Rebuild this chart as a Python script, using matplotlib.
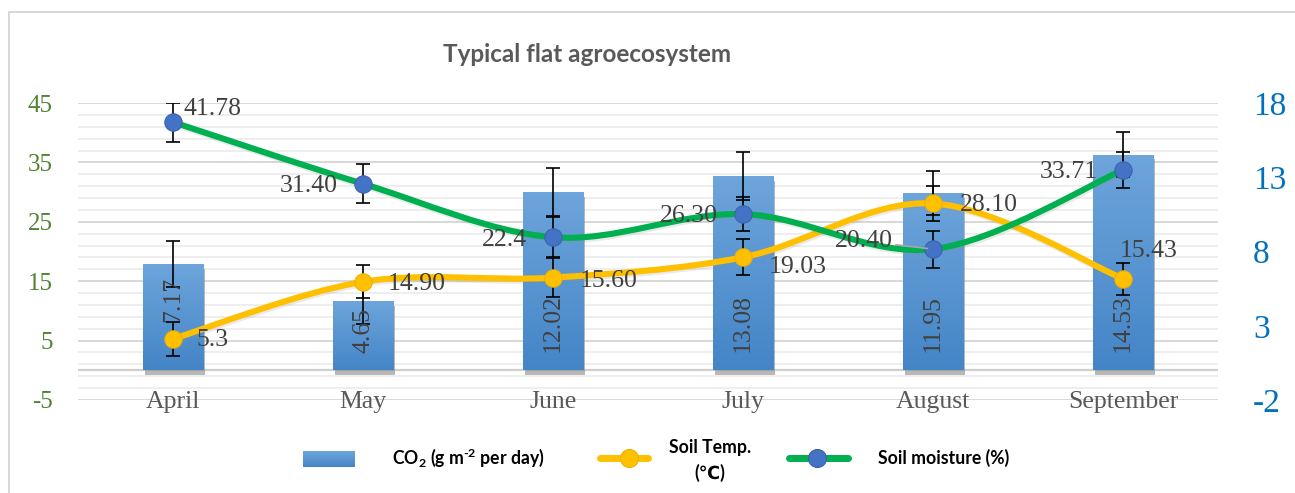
import matplotlib
matplotlib.use('Agg')
import matplotlib.pyplot as plt
import numpy as np
from matplotlib.path import Path
from matplotlib.patches import PathPatch
from matplotlib.lines import Line2D
import matplotlib.patheffects as pe
from matplotlib.colors import LinearSegmentedColormap

# ---------------- data ----------------
months = ['April', 'May', 'June', 'July', 'August', 'September']
co2 = [7.17, 4.65, 12.02, 13.08, 11.95, 14.53]
co2_err = [1.55, 1.5, 1.6, 1.6, 1.5, 1.5]
soil_temp = [5.3, 14.90, 15.60, 19.03, 28.10, 15.43]
temp_err = [2.9, 2.8, 3.3, 3.0, 2.9, 2.7]
soil_moist = [41.78, 31.40, 22.4, 26.30, 20.40, 33.71]
moist_err = [3.3, 3.3, 3.4, 2.9, 3.1, 3.1]
co2_labels = ['7.17', '4.65', '12.02', '13.08', '11.95', '14.53']
temp_labels = ['5.3', '14.90', '15.60', '19.03', '28.10', '15.43']
moist_labels = ['41.78', '31.40', '22.4', '26.30', '20.40', '33.71']
left_ticks = [-5, 5, 15, 25, 35, 45]
left_tick_labels = ['-5', '5', '15', '25', '35', '45']
right_ticks = [-2, 3, 8, 13, 18]
right_tick_labels = ['-2', '3', '8', '13', '18']

# ---------------- layout helpers ----------------
W, H, DPI = 1295, 493, 100
PT = 72 / DPI
plt.rcParams['font.family'] = ['Liberation Serif', 'DejaVu Serif']
plt.rcParams['mathtext.fontset'] = 'custom'
plt.rcParams['mathtext.rm'] = 'Lato:bold'
plt.rcParams['mathtext.it'] = 'Lato:bold'
plt.rcParams['mathtext.bf'] = 'Lato:bold'
SERIF = ['Liberation Serif', 'DejaVu Serif']
SANS = ['Lato', 'DejaVu Sans']

fig = plt.figure(figsize=(W / DPI, H / DPI), dpi=DPI)


def fx(px):
    return px / W


def fy(py):
    return 1 - py / H


renderer = fig.canvas.get_renderer()


def fit(t, target):
    w = t.get_window_extent(renderer).width
    t.set_fontsize(t.get_fontsize() * target / w)
    return t.get_fontsize()


x = np.arange(len(months))

# ---------------- bottom axes: grid + left ticks ----------------
ax = fig.add_axes([fx(78), fy(400), (1218 - 78) / W, (400 - 103) / H])
ax.set_xlim(-0.5, len(months) - 0.5)
ax.set_ylim(-5, 45)
ax.set_yticks(left_ticks, labels=left_tick_labels)
ax.set_yticks(np.arange(-5, 46, 2), minor=True)
ax.grid(which='major', axis='y', color='#D6D6D6', lw=1.3)
ax.grid(which='minor', axis='y', color='#EDEDED', lw=1.3)
ax.axhline(0, color='#CFCFCF', lw=1.6)
for s in ax.spines.values():
    s.set_visible(False)
ax.set_xticks([])
ax.tick_params(axis='y', which='both', length=0)
ax.tick_params(axis='y', labelsize=18, labelcolor='#548235', pad=25 * PT,
               labelfontfamily='Liberation Serif')

# ---------------- middle axes: bars on right scale ----------------
ax2 = ax.twinx()
ax2.set_ylim(-2, 18)
ax2.set_yticks(right_ticks, labels=right_tick_labels)
for s in ax2.spines.values():
    s.set_visible(False)
ax2.tick_params(axis='y', length=0, labelsize=24, labelcolor='#0070C0', pad=35 * PT,
                labelfontfamily='Liberation Serif')
bars = ax2.bar(x, co2, width=0.32, color='#5B9BD5', zorder=2,
               path_effects=[pe.SimplePatchShadow(offset=(1.5, -3.5), shadow_rgbFace='#7F7F7F', alpha=0.55),
                             pe.Normal()])
grad_cmap = LinearSegmentedColormap.from_list('g', ['#4485C7', '#6EA5DB'])
grad = np.linspace(0, 1, 256).reshape(-1, 1)
for b in bars:
    x0, y0, bw, bh = b.get_x(), b.get_y(), b.get_width(), b.get_height()
    im = ax2.imshow(grad, extent=[x0, x0 + bw, y0, y0 + bh], origin='lower', aspect='auto',
                    cmap=grad_cmap, zorder=2.1, interpolation='bilinear')
    im.set_clip_path(b)
ax2.set_xlim(-0.5, len(months) - 0.5)
ax2.set_ylim(-2, 18)
ax2.errorbar(x, co2, yerr=co2_err, fmt='none', ecolor='black', elinewidth=1.2,
             capsize=4.7, capthick=1.2, zorder=4)
bar_offsets = [48, 17, 18, 18, 18, 18]
for i, (lab, off) in enumerate(zip(co2_labels, bar_offsets)):
    ax2.annotate(lab, xy=(i, 0), xytext=(0, off * PT), textcoords='offset points',
                 rotation=90, rotation_mode='anchor', ha='left', va='center',
                 fontsize=18.5, color='#404040', zorder=5)

# ---------------- top axes: lines on left scale ----------------
ax3 = ax.twinx()
ax3.set_ylim(-5, 45)
ax3.set_yticks([])
for s in ax3.spines.values():
    s.set_visible(False)


def smooth_path(xs, ys):
    p = np.column_stack([xs, ys]).astype(float)
    n = len(p)
    verts = [p[0]]
    codes = [Path.MOVETO]
    for i in range(n - 1):
        pa = p[i - 1] if i > 0 else p[i]
        pd = p[i + 2] if i + 2 < n else p[i + 1]
        c1 = p[i] + (p[i + 1] - pa) / 6
        c2 = p[i + 1] - (pd - p[i]) / 6
        verts += [c1, c2, p[i + 1]]
        codes += [Path.CURVE4] * 3
    return Path(verts, codes)


line_shadow = [pe.SimpleLineShadow(offset=(0.8, -1.5), shadow_color='#909090', alpha=0.18), pe.Normal()]

ax3.errorbar(x, soil_temp, yerr=temp_err, fmt='none', ecolor='black', elinewidth=1.2,
             capsize=4.7, capthick=1.2, zorder=2)
ax3.errorbar(x, soil_moist, yerr=moist_err, fmt='none', ecolor='black', elinewidth=1.2,
             capsize=4.7, capthick=1.2, zorder=2)

ax3.add_patch(PathPatch(smooth_path(x, soil_temp), fill=False, edgecolor='#FFC000', lw=4.4,
                        capstyle='round', joinstyle='round', zorder=3, path_effects=line_shadow))
ax3.plot(x, soil_temp, 'o', ms=12.5, mfc='#FFC000', mec='#EDB100', mew=0.8, zorder=3.5)
ax3.add_patch(PathPatch(smooth_path(x, soil_moist), fill=False, edgecolor='#00B050', lw=4.4,
                        capstyle='round', joinstyle='round', zorder=4, path_effects=line_shadow))
ax3.plot(x, soil_moist, 'o', ms=12.5, mfc='#4472C4', mec='#3A63AE', mew=0.8, zorder=4.5)

# data labels (offsets in pixels)
moist_off = [(10, 13, 'left'), (-25, -2, 'right'), (-26, -3, 'right'),
             (-25, -2, 'right'), (-40, 8, 'right'), (-25, -2, 'right')]
temp_off = [(24, -1, 'left'), (25, -2, 'left'), (27, -3, 'left'),
            (26, -10, 'left'), (27, -2, 'left'), (-3, 28, 'left')]
for i, (lab, (dx, dy, ha)) in enumerate(zip(moist_labels, moist_off)):
    kw = {}
    if i == 4:
        kw['arrowprops'] = dict(arrowstyle='-', color='#A6A6A6', lw=1.2, shrinkA=0, shrinkB=4)
    ax3.annotate(lab, xy=(i, soil_moist[i]), xytext=(dx * PT, dy * PT), textcoords='offset points',
                 ha=ha, va='center', fontsize=18.5, color='#404040', zorder=6, **kw)
for i, (lab, (dx, dy, ha)) in enumerate(zip(temp_labels, temp_off)):
    ax3.annotate(lab, xy=(i, soil_temp[i]), xytext=(dx * PT, dy * PT), textcoords='offset points',
                 ha=ha, va='center', fontsize=18.5, color='#404040', zorder=6)

# category labels
for i, m in enumerate(months):
    ax3.annotate(m, xy=(i, 0), xycoords=('data', 'axes fraction'), xytext=(0, -8 * PT),
                 textcoords='offset points', ha='center', va='baseline', fontsize=18.5,
                 color='#595959', annotation_clip=False)

# ---------------- title ----------------
title = fig.text(fx(587), fy(55), 'Typical flat agroecosystem', ha='center', va='center',
                 family=SANS, fontweight='bold', color='#595959', fontsize=16)
fit(title, 289)

# ---------------- legend ----------------
t3 = fig.text(fx(878), fy(458), 'Soil moisture (%)', ha='left', va='center', family=SANS,
              fontweight='bold', color='black', fontsize=12)
lfs = fit(t3, 130)
t1 = fig.text(fx(392), fy(458), r'CO$_2$ (g m$^{\text{-2}}$ per day)', ha='left', va='center',
              family=SANS, fontweight='bold', color='black', fontsize=lfs)
fig.text(fx(710), fy(448), 'Soil Temp.', ha='center', va='center', family=SANS,
         fontweight='bold', color='black', fontsize=lfs)
fig.text(fx(710), fy(473), '(℃)', ha='center', va='center', family=SANS,
         fontweight='bold', color='black', fontsize=lfs)

lax = fig.add_axes([fx(303), fy(467), 52 / W, 16 / H])
lax.imshow(grad, origin='lower', aspect='auto', cmap=grad_cmap, extent=[0, 1, 0, 1])
lax.set_axis_off()

fig.add_artist(Line2D([fx(600), fx(648)], [fy(458)] * 2, transform=fig.transFigure,
                      color='#FFC000', lw=7 * PT, solid_capstyle='round'))
fig.add_artist(Line2D([fx(629)], [fy(458)], transform=fig.transFigure, marker='o',
                      ms=18 * PT, mfc='#FFC000', mec='#EDB100', mew=0.8, ls='none'))
fig.add_artist(Line2D([fx(789), fx(848)], [fy(458)] * 2, transform=fig.transFigure,
                      color='#00B050', lw=7 * PT, solid_capstyle='round'))
fig.add_artist(Line2D([fx(817)], [fy(458)], transform=fig.transFigure, marker='o',
                      ms=18 * PT, mfc='#4472C4', mec='#3A63AE', mew=0.8, ls='none'))

# ---------------- chart border ----------------
fig.add_artist(Line2D([fx(9), fx(9)], [fy(12), 0], transform=fig.transFigure, color='#D9D9D9', lw=2 * PT))
fig.add_artist(Line2D([fx(9), 1], [fy(12), fy(12)], transform=fig.transFigure, color='#D9D9D9', lw=2 * PT))

fig.savefig('out.png', dpi=DPI)
